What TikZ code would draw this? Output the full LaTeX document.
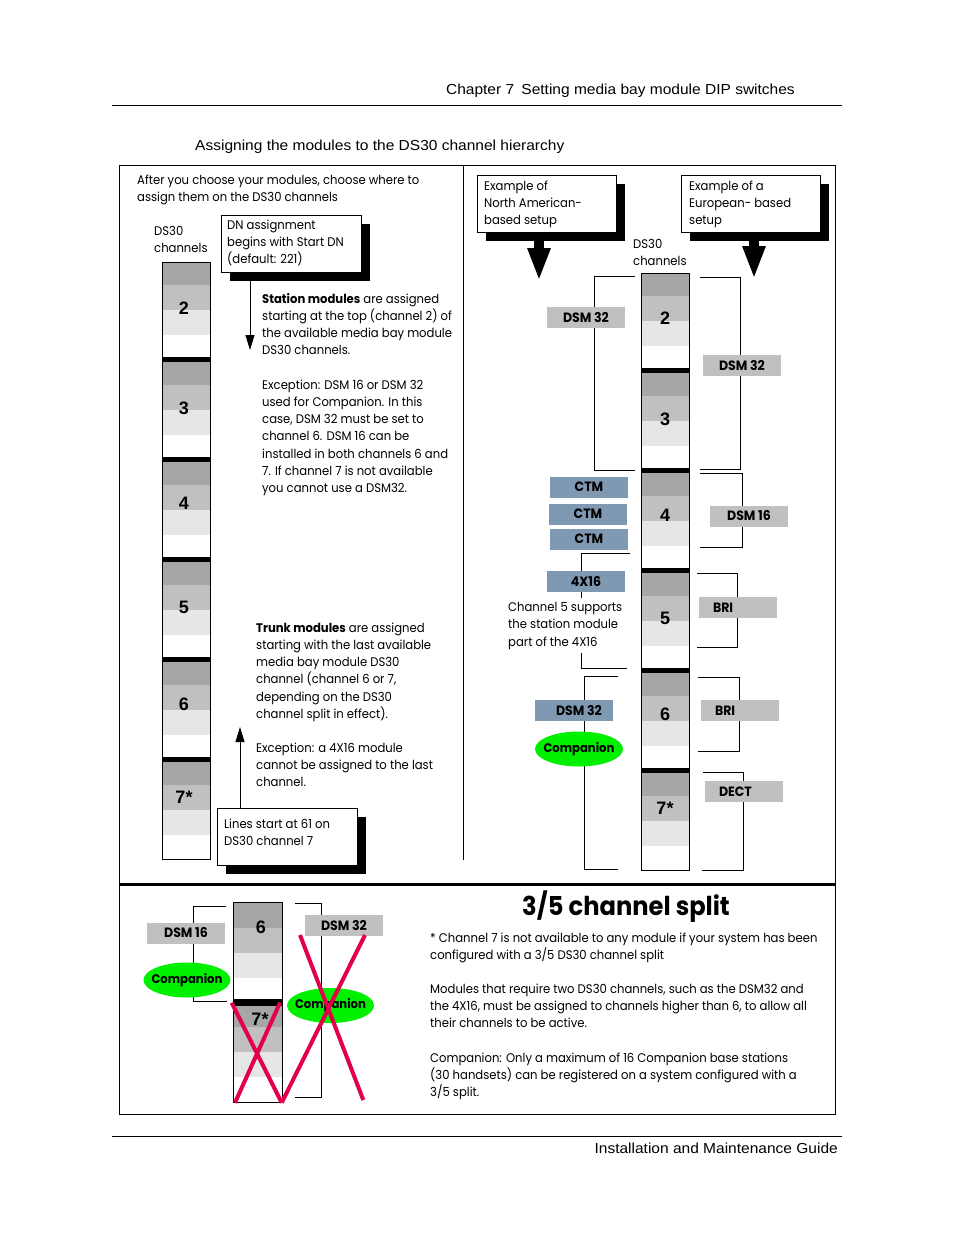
\documentclass[tikz,border=0pt]{standalone}
\usepackage{fontspec}
\setmainfont{Poppins}[FakeStretch=0.93]
\newfontfamily\helv{Liberation Sans}[FakeStretch=1.07]
\newfontfamily\numf{Liberation Sans}
\usetikzlibrary{arrows.meta,shadows,shapes.geometric}
\definecolor{gdark}{RGB}{166,166,166}
\definecolor{gmid}{RGB}{192,192,192}
\definecolor{glight}{RGB}{230,230,230}
\definecolor{lblgray}{RGB}{192,192,192}
\definecolor{lblblue}{RGB}{128,153,178}
\definecolor{compgreen}{RGB}{0,240,0}
\definecolor{xred}{RGB}{228,0,72}
\newcommand\dscol[2]{%
  \foreach \k in {0,...,5}{%
    \pgfmathsetmacro\s{#2+100*\k}%
    \ifnum\k>0 \fill[black] (#1,\s-5) rectangle (#1+48,\s);\fi
    \fill[gdark] (#1,\s) rectangle (#1+48,\s+23);
    \fill[gmid] (#1,\s+23) rectangle (#1+48,\s+48);
    \fill[glight] (#1,\s+48) rectangle (#1+48,\s+73);
  }%
  \draw[line width=1pt] (#1,#2) rectangle (#1+48,#2+597);
}
\newcommand\comptext{\makebox[50pt]{Companion}}
\begin{document}
\begin{tikzpicture}[x=1pt,y=-1pt,
  txt/.style={anchor=base west, align=left, inner sep=0pt, font=\fontsize{12.5}{17.3}\selectfont},
  hdr/.style={inner sep=0pt, font=\helv\fontsize{14.5}{17}\selectfont},
  shbox/.style={draw, fill=white, line width=1pt, inner sep=0pt, anchor=north west,
     minimum width=140pt, minimum height=57pt,
     drop shadow={shadow xshift=8pt, shadow yshift=-8pt, fill=black, opacity=1}},
  modbox/.style={fill=lblgray, minimum width=78pt, minimum height=21pt, inner sep=0pt,
     font=\bfseries\fontsize{13.5}{15}\selectfont},
  bluebox/.style={modbox, fill=lblblue},
  leftbox/.style={modbox, text width=50pt, align=left, inner xsep=14pt},
  comp/.style={ellipse, fill=compgreen, minimum width=88pt, minimum height=35pt, inner sep=0pt,
     font=\bfseries\fontsize{12.5}{15}\selectfont},
  num/.style={inner sep=0pt, font=\numf\bfseries\fontsize{18}{20}\selectfont},
  brk/.style={line width=1pt},
  thinarrow/.style={line width=1pt, -{Triangle[width=9pt,length=15pt]}},
  bigarrow/.style={line width=10pt, -{Triangle[width=21pt,length=33pt]}},
  cross/.style={xred, line width=4pt}]
\useasboundingbox (0,0) rectangle (954,1235);
\fill[white] (0,0) rectangle (954,1235);

% header / footer
\node[hdr, anchor=base east] (chap) at (795,94) {Chapter 7\enspace Setting media bay module DIP switches};
\draw[line width=1pt] (112,105) -- (842,105);
\node[hdr, anchor=base west] (title) at (195,150) {Assigning the modules to the DS30 channel hierarchy};
\draw[line width=1pt] (112,1136) -- (842,1136);
\node[hdr, anchor=base east] (guide) at (838,1153) {Installation and Maintenance Guide};

% frame
\draw[line width=1pt] (119,165) rectangle (835,1114);
\draw[line width=1pt] (463,165) -- (463,860);
\draw[line width=3pt] (119,884) -- (835,884);

% ---------- left panel ----------
% (base anchor of a multi-line text = baseline of its last line)
\node[txt] (intro) at (137,201.3) {After you choose your modules, choose where to\\assign them on the DS30 channels};
\node[txt] (dsl) at (154,252.3) {DS30\\channels};
\dscol{162}{262}
\node[num] (l2) at (184,308) {2};
\node[num] (l3) at (184,408) {3};
\node[num] (l4) at (184,503) {4};
\node[num] (l5) at (184,607) {5};
\node[num] (l6) at (184,704) {6};
\node[num] (l7) at (184,797) {7*};

\node[shbox] (dnbox) at (221,215) {};
\node[txt] (dntext) at (227,263.6) {DN assignment\\begins with Start DN\\(default: 221)};
\coordinate (dnfrom) at (250,280);
\coordinate (dnto) at (250,350);
\draw[thinarrow] (dnfrom) -- (dnto);

\node[txt] (station) at (262,354.9) {\textbf{Station modules} are assigned\\starting at the top (channel 2) of\\the available media bay module\\DS30 channels.};
\node[txt] (exc1) at (262,492.8) {Exception: DSM 16 or DSM 32\\used for Companion. In this\\case, DSM 32 must be set to\\channel 6. DSM 16 can be\\installed in both channels 6 and\\7. If channel 7 is not available\\you cannot use a DSM32.};
\node[txt] (trunk) at (256,718.5) {\textbf{Trunk modules} are assigned\\starting with the last available\\media bay module DS30\\channel (channel 6 or 7,\\depending on the DS30\\channel split in effect).};
\node[txt] (exc2) at (256,786.6) {Exception: a 4X16 module\\cannot be assigned to the last\\channel.};

\node[shbox] (linesbox) at (217,808) {};
\node[txt] (linestext) at (224,845.3) {Lines start at 61 on\\DS30 channel 7};
\coordinate (upfrom) at (240,808);
\coordinate (upto) at (240,727);
\draw[thinarrow] (upfrom) -- (upto);

% ---------- right panel ----------
\node[shbox, minimum width=139pt] (nabox) at (477,175) {};
\node[txt] (natext) at (484,224.6) {Example of\\North American-\\based setup};
\node[shbox, minimum width=139pt] (eubox) at (681,175) {};
\node[txt] (eutext) at (689,224.6) {Example of a\\European- based\\setup};
\coordinate (nafrom) at (539,239);
\coordinate (nato) at (539,281);
\draw[bigarrow] (nafrom) -- (nato);
\coordinate (eufrom) at (754,239);
\coordinate (euto) at (754,279);
\draw[bigarrow] (eufrom) -- (euto);

\node[txt] (dsr) at (633,265.3) {DS30\\channels};
\dscol{641}{273}
\node[num] (r2) at (665,318) {2};
\node[num] (r3) at (665,419) {3};
\node[num] (r4) at (665,515) {4};
\node[num] (r5) at (665,618) {5};
\node[num] (r6) at (665,714) {6};
\node[num] (r7) at (665,808) {7*};

% NA brackets
\draw[brk] (635,276) -- (594,276) -- (594,470) -- (635,470);
\draw[brk] (630,553) -- (581,553) -- (581,598);
\draw[brk] (581,653) -- (581,668) -- (627,668);
\draw[brk] (618,676) -- (584,676) -- (584,869) -- (618,869);
\node[modbox] (nadsm32) at (586,317) {DSM 32};
\node[bluebox] (ctm1) at (589,487) {CTM};
\node[bluebox] (ctm2) at (588,514) {CTM};
\node[bluebox] (ctm3) at (589,539) {CTM};
\node[bluebox] (x416) at (586,581) {4X16};
\node[txt] (ch5note) at (508,646) {Channel 5 supports\\the station module\\part of the 4X16};
\node[bluebox] (nadsm32b) at (574,710.5) {\hspace*{10pt}DSM 32};
\node[comp] (nacomp) at (579,749) {\comptext};

% EU brackets
\draw[brk] (700,277) -- (740,277) -- (740,469) -- (700,469);
\draw[brk] (700,473) -- (742,473) -- (742,547) -- (700,547);
\draw[brk] (697,573) -- (737,573) -- (737,647) -- (697,647);
\draw[brk] (698,677) -- (739,677) -- (739,751) -- (698,751);
\draw[brk] (703,772) -- (743,772) -- (743,870) -- (702,870);
\node[modbox] (eudsm32) at (742,365) {DSM 32};
\node[modbox] (eudsm16) at (749,516) {DSM 16};
\node[leftbox] (bri1) at (738,607.5) {BRI};
\node[leftbox] (bri2) at (740,710.5) {BRI};
\node[leftbox] (dect) at (744,791.5) {DECT};

% ---------- bottom panel ----------
\fill[gdark] (233,902) rectangle (282,928);
\fill[gmid] (233,928) rectangle (282,953);
\fill[glight] (233,953) rectangle (282,978);
\fill[black] (233,999) rectangle (282,1006);
\fill[gdark] (233,1006) rectangle (282,1027);
\fill[gmid] (233,1027) rectangle (282,1052);
\fill[glight] (233,1052) rectangle (282,1077);
\draw[line width=1pt] (233,902) rectangle (282,1102);
\node[num] (b6) at (261,927) {6};
\node[num] (b7) at (260,1019) {7*};

\draw[brk] (226,906) -- (193,906) -- (193,1001) -- (227,1001);
\draw[brk] (295,903) -- (321,903) -- (321,1097) -- (295,1097);
\node[modbox] (bdsm16) at (186,933) {DSM 16};
\node[comp, minimum width=87pt] (bcomp1) at (187,980) {\comptext};
\node[modbox] (bdsm32) at (344,925.5) {DSM 32};
\node[comp, minimum width=87pt] (bcomp2) at (330.5,1005.5) {\comptext};

\draw[cross] (231.7,1002.7) -- (281.7,1102.7);
\draw[cross] (280,1002.7) -- (235,1102.7);
\draw[cross] (300,935) -- (363.3,1100);
\draw[cross] (365,935) -- (281.7,1102.7);

\node[inner sep=0pt, anchor=base, font=\bfseries\fontsize{26}{30}\selectfont] (split) at (626,915) {3/5 channel split};
\node[txt] (note1) at (430,959.3) {* Channel 7 is not available to any module if your system has been\\configured with a 3/5 DS30 channel split};
\node[txt] (note2) at (430,1027.6) {Modules that require two DS30 channels, such as the DSM32 and\\the 4X16, must be assigned to channels higher than 6, to allow all\\their channels to be active.};
\node[txt] (note3) at (430,1096.6) {Companion: Only a maximum of 16 Companion base stations\\(30 handsets) can be registered on a system configured with a\\3/5 split.};
\end{tikzpicture}
\end{document}
